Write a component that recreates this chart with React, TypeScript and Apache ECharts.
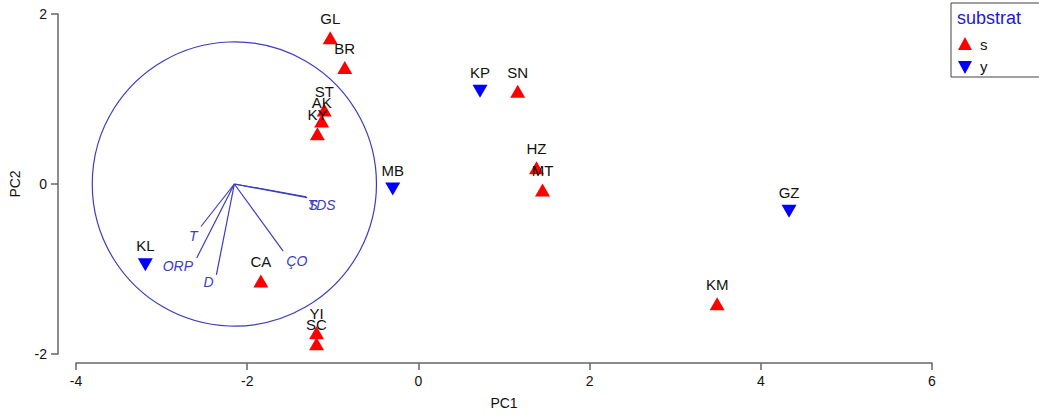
import React, { useEffect, useRef } from "react";
import * as echarts from "echarts";

// Sample scores
const siteNames = ["GL", "BR", "ST", "AK", "KY", "KP", "SN", "MB", "HZ", "MT", "GZ", "KM", "CA", "KL", "YI", "SC"];
const pc1 = [-1.03, -0.86, -1.1, -1.13, -1.18, 0.72, 1.16, -0.3, 1.38, 1.45, 4.33, 3.49, -1.84, -3.19, -1.19, -1.19];
const pc2 = [1.72, 1.37, 0.87, 0.74, 0.59, 1.09, 1.09, -0.06, 0.19, -0.07, -0.32, -1.41, -1.14, -0.95, -1.75, -1.88];
const substrat = ["s", "s", "s", "s", "s", "y", "s", "y", "s", "s", "y", "s", "s", "y", "s", "s"];

// Loading vectors (drawn from the circle centre)
const vecNames = ["S", "TDS", "T", "ORP", "D", "ÇO"];
const vecX = [-1.31, -1.3, -2.54, -2.59, -2.36, -1.58];
const vecY = [-0.15, -0.16, -0.5, -0.87, -1.07, -0.79];
const vecLabelX = [-1.23, -1.13, -2.63, -2.81, -2.45, -1.42];
const vecLabelY = [-0.25, -0.25, -0.61, -0.97, -1.15, -0.91];
const circleCentre = [-2.15, 0];
const circleRadius = 1.666;

const xTicks = { min: -4, max: 6, interval: 2 };
const yTicks = { min: -2, max: 2, interval: 2 };

const FONT = "'Liberation Sans', Arial, sans-serif";
const VEC_COLOR = "#3c3cc0";

export default function App() {
  const ref = useRef<HTMLDivElement>(null);
  useEffect(() => {
    document.body.style.margin = "0";
    if (!ref.current) return;
    const chart = echarts.init(ref.current, null, { renderer: "svg" });

    const mk = (key: string) =>
      siteNames
        .map((n, i) => ({ name: n, value: [pc1[i], pc2[i]], s: substrat[i] }))
        .filter((d) => d.s === key)
        .map((d) => ({ name: d.name, value: d.value }));

    const pointLabel = {
      show: true,
      position: "top",
      distance: 5,
      formatter: "{b}",
      color: "#111",
      fontSize: 15,
      fontFamily: FONT,
    };

    chart.setOption({
      animation: false,
      grid: { left: 75, right: 107, top: 14, bottom: 65 },
      xAxis: {
        type: "value",
        min: xTicks.min,
        max: xTicks.max,
        interval: xTicks.interval,
        offset: 9,
        splitLine: { show: false },
        axisLine: { show: true, onZero: false, lineStyle: { color: "#666", width: 1.5 } },
        axisTick: { show: true, length: 7, lineStyle: { color: "#666", width: 1.5 } },
        axisLabel: { color: "#111", fontSize: 14, fontFamily: FONT, margin: 11 },
        name: "PC1",
        nameLocation: "middle",
        nameGap: 33,
        nameTextStyle: { color: "#111", fontSize: 14, fontFamily: FONT },
      },
      yAxis: {
        type: "value",
        min: yTicks.min,
        max: yTicks.max,
        interval: yTicks.interval,
        offset: 18,
        splitLine: { show: false },
        axisLine: { show: true, onZero: false, lineStyle: { color: "#666", width: 1.5 } },
        axisTick: { show: true, length: 7, lineStyle: { color: "#666", width: 1.5 } },
        axisLabel: { color: "#111", fontSize: 14, fontFamily: FONT, margin: 11 },
        name: "PC2",
        nameLocation: "middle",
        nameGap: 36,
        nameRotate: 90,
        nameTextStyle: { color: "#111", fontSize: 14, fontFamily: FONT },
      },
      series: [
        {
          type: "custom",
          silent: true,
          clip: false,
          data: [[circleCentre[0], circleCentre[1], circleRadius]],
          renderItem: (params: any, api: any) => {
            const c = api.coord([api.value(0), api.value(1)]);
            const sz = api.size([api.value(2), api.value(2)]);
            return {
              type: "circle",
              shape: { cx: c[0], cy: c[1], r: (sz[0] + sz[1]) / 2 },
              style: { fill: "none", stroke: VEC_COLOR, lineWidth: 1.2 },
            };
          },
        },
        {
          type: "custom",
          silent: true,
          clip: false,
          data: vecNames.map((n, i) => [vecX[i], vecY[i], vecLabelX[i], vecLabelY[i], n]),
          renderItem: (params: any, api: any) => {
            const o = api.coord(circleCentre);
            const e = api.coord([api.value(0), api.value(1)]);
            const l = api.coord([api.value(2), api.value(3)]);
            return {
              type: "group",
              children: [
                {
                  type: "line",
                  shape: { x1: o[0], y1: o[1], x2: e[0], y2: e[1] },
                  style: { stroke: VEC_COLOR, lineWidth: 1.2 },
                },
                {
                  type: "text",
                  x: l[0],
                  y: l[1],
                  style: {
                    text: vecNames[params.dataIndex],
                    fill: VEC_COLOR,
                    font: `italic 14px ${FONT}`,
                    align: "center",
                    verticalAlign: "middle",
                  },
                },
              ],
            };
          },
        },
        {
          type: "scatter",
          name: "s",
          symbol: "triangle",
          symbolSize: [15, 13],
          itemStyle: { color: "#ff0000", opacity: 1 },
          label: pointLabel,
          data: mk("s"),
        },
        {
          type: "scatter",
          name: "y",
          symbol: "triangle",
          symbolRotate: 180,
          symbolSize: [15, 13],
          itemStyle: { color: "#0000ff", opacity: 1 },
          label: pointLabel,
          data: mk("y"),
        },
      ],
      graphic: [
        {
          type: "rect",
          shape: { x: 951, y: 3, width: 100, height: 74 },
          style: { fill: "#fff", stroke: "#444", lineWidth: 1 },
        },
        {
          type: "text",
          x: 957,
          y: 18,
          style: { text: "substrat", fill: "#1a1ad0", font: `18px ${FONT}`, verticalAlign: "middle" },
        },
        {
          type: "polygon",
          shape: { points: [[965, 37], [958, 50], [972, 50]] },
          style: { fill: "#ff0000" },
        },
        {
          type: "text",
          x: 980,
          y: 44,
          style: { text: "s", fill: "#111", font: `15px ${FONT}`, verticalAlign: "middle" },
        },
        {
          type: "polygon",
          shape: { points: [[958, 61], [972, 61], [965, 74]] },
          style: { fill: "#0000ff" },
        },
        {
          type: "text",
          x: 980,
          y: 66,
          style: { text: "y", fill: "#111", font: `15px ${FONT}`, verticalAlign: "middle" },
        },
      ],
    });
    return () => chart.dispose();
  }, []);
  return <div ref={ref} style={{ width: 1039, height: 419 }} />;
}
